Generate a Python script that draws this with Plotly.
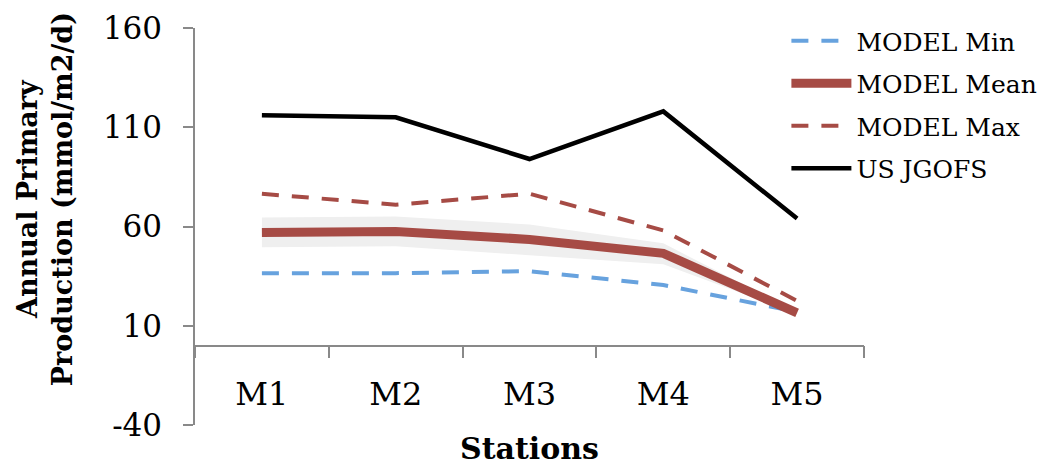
import plotly.graph_objects as go

stations = ["M1", "M2", "M3", "M4", "M5"]
model_min = [36.5, 36.5, 37.5, 30.5, 17]
model_mean = [57, 57.5, 53.5, 46.5, 16.5]
model_max = [76.5, 71, 76.5, 58, 22.5]
us_jgofs = [116, 115, 94, 118, 64]
band_upper = [64.5, 65, 61, 51.5, 17]
band_lower = [49.5, 50, 45.5, 41, 16]
y_ticks = [-40, 10, 60, 110, 160]
y_tick_text = ["-40", "10", "60", "110", "160"]

FONT = "DejaVu Serif"
RED = "#A64B45"
BLUE = "#67A2DE"
AXIS = "#898989"

fig = go.Figure()
fig.add_trace(go.Scatter(x=stations, y=band_lower, mode="lines", line=dict(width=0),
                         showlegend=False, hoverinfo="skip", legendgroup="z"))
fig.add_trace(go.Scatter(x=stations, y=band_upper, mode="lines", line=dict(width=0),
                         fill="tonexty", fillcolor="#EFEFEF", showlegend=False,
                         hoverinfo="skip", legendgroup="z"))
fig.add_trace(go.Scatter(x=stations, y=model_min, mode="lines", name="MODEL Min", legendgroup="a",
                         line=dict(color=BLUE, width=4, dash="17px,13px")))
fig.add_trace(go.Scatter(x=stations, y=model_mean, mode="lines", name="MODEL Mean", legendgroup="b",
                         line=dict(color=RED, width=9)))
fig.add_trace(go.Scatter(x=stations, y=model_max, mode="lines", name="MODEL Max", legendgroup="c",
                         line=dict(color=RED, width=4, dash="17px,13px")))
fig.add_trace(go.Scatter(x=stations, y=us_jgofs, mode="lines", name="US JGOFS", legendgroup="d",
                         line=dict(color="black", width=4.5)))

fig.update_layout(
    width=1041, height=466,
    margin=dict(l=187, r=185, t=20, b=49, autoexpand=False),
    paper_bgcolor="white", plot_bgcolor="white",
    font=dict(family=FONT, color="black"),
    showlegend=True,
    legend=dict(x=0.884, y=1.025, xanchor="left", yanchor="top", traceorder="grouped",
                font=dict(size=25, family=FONT), bgcolor="rgba(0,0,0,0)",
                tracegroupgap=7, itemwidth=60),
    xaxis=dict(type="category", range=[-0.5, 4.5], anchor="free", position=0.2,
               showline=True, linecolor=AXIS, linewidth=1.5, automargin=False,
               ticks="outside", tickson="boundaries", ticklen=12, tickcolor=AXIS,
               tickwidth=1.5, showgrid=False, zeroline=False,
               tickfont=dict(size=32, family=FONT), ticklabelstandoff=20),
    yaxis=dict(range=[-40, 160], tickvals=y_ticks, ticktext=y_tick_text, showline=True,
               linecolor=AXIS, automargin=False, ticklabeloverflow="allow",
               linewidth=1.5, ticks="outside", ticklen=10, tickcolor=AXIS, tickwidth=1.5,
               showgrid=False, zeroline=False, tickfont=dict(size=31, family=FONT),
               ticklabelstandoff=15),
    annotations=[
        dict(text="<b>Stations</b>", xref="paper", yref="paper", x=0.5, y=-0.06,
             xanchor="center", yanchor="middle", showarrow=False,
             font=dict(size=30, family=FONT)),
        dict(text="<b>Annual Primary<br>Production (mmol/m2/d)</b>", xref="paper", yref="paper",
             x=-0.225, y=0.57, xanchor="center", yanchor="middle", textangle=-90,
             showarrow=False, font=dict(size=27, family=FONT)),
    ],
)

fig.write_html("out.html")
